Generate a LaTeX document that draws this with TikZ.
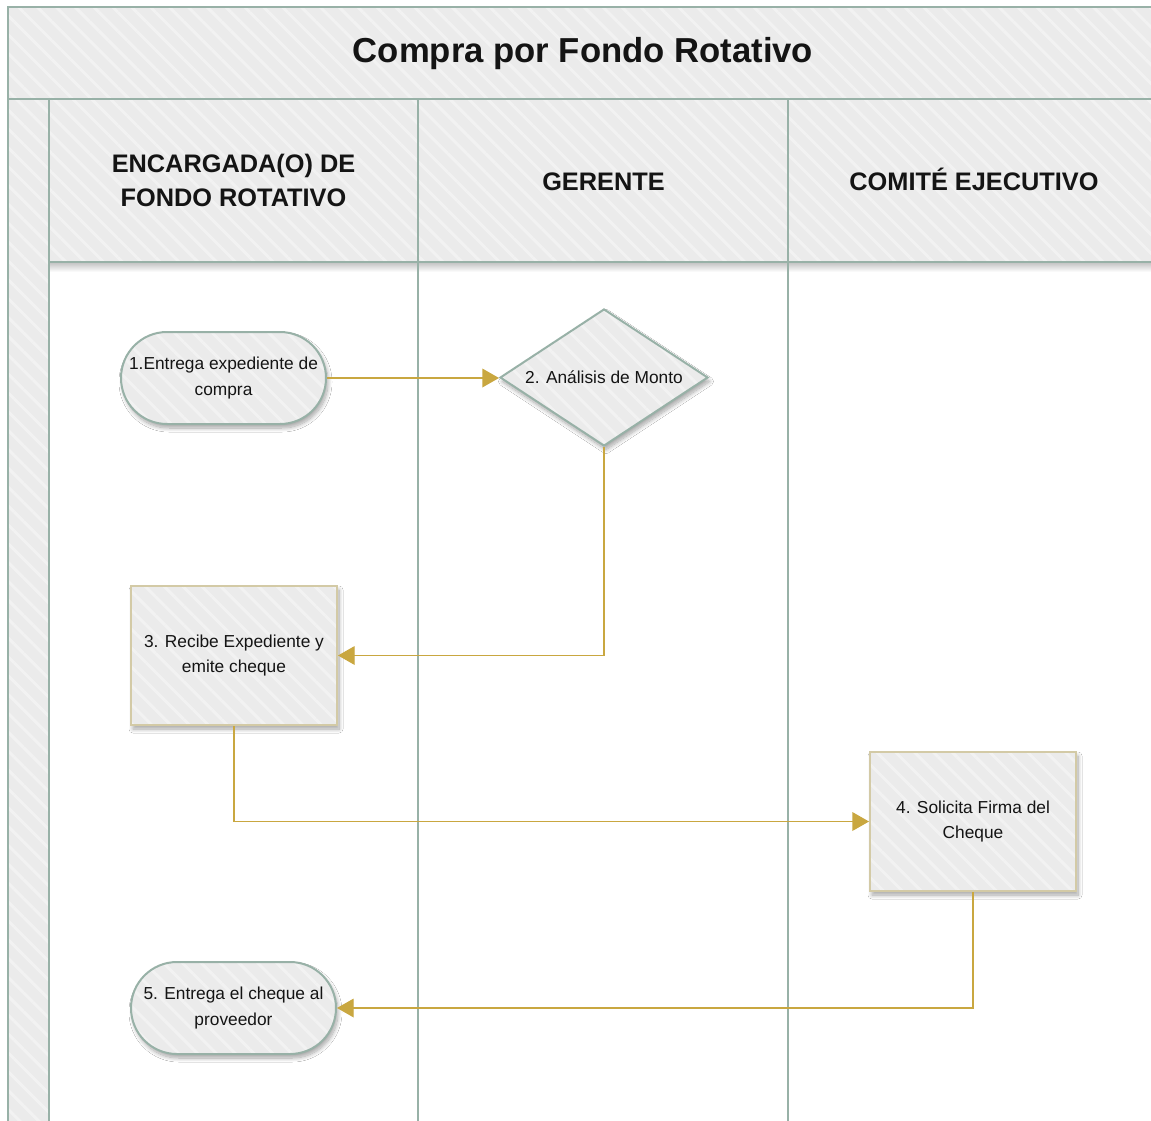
\documentclass[tikz,border=0pt]{standalone}
\usepackage{fontspec}
\setmainfont{Liberation Sans}
\usetikzlibrary{shapes.geometric,shadows.blur,arrows.meta,patterns.meta}
\definecolor{laneline}{HTML}{98B1A7}
\definecolor{boxline}{HTML}{D3CAA6}
\definecolor{flow}{HTML}{C9A740}
\definecolor{panelbg}{HTML}{EBEBEB}
\definecolor{panelln}{HTML}{F2F2F2}
\definecolor{ink}{HTML}{141414}
\begin{document}
\begin{tikzpicture}[x=0.75pt,y=-0.75pt,
  hatched/.style={preaction={fill=panelbg},
    preaction={pattern={Lines[angle=-45,distance=10pt,line width=2.2pt]},pattern color=panelln}},
  frame/.style={draw=laneline,line width=1.5pt},
  headtext/.style={font=\bfseries\fontsize{19}{25.5}\selectfont,text=ink,align=center},
  steptext/.style={font=\fontsize{13}{19}\selectfont,text=ink,align=center,inner sep=0pt},
  shade1/.style={blur shadow={shadow xshift=1.5pt,shadow yshift=-3pt,shadow blur radius=3pt,
    shadow blur steps=10,shadow opacity=35}},
  terminal/.style={shade1,hatched,steptext,draw=laneline,line width=1.5pt,
    minimum width=153.75pt,minimum height=69pt,rounded corners=34.5pt},
  process/.style={shade1,hatched,steptext,draw=boxline,line width=1.5pt,
    minimum width=154.5pt,minimum height=104.25pt},
  decision/.style={shade1,hatched,steptext,diamond,aspect=1.52,draw=laneline,line width=1.5pt,
    minimum width=156pt,minimum height=102.75pt},
  link/.style={draw=flow,line width=1pt,-{Triangle[length=12.5pt,width=14pt]}},
]
\useasboundingbox (0,0) rectangle (1151,1120);
\fill[white] (0,0) rectangle (1151,1120);

% title band and left strip
\path[hatched,frame] (8,7) rectangle (1165,99);
\path[hatched,frame] (8,99) rectangle (49,1135);

% lane headers
\path[hatched,frame] (49,99) rectangle (418,262);
\path[hatched,frame] (418,99) rectangle (788,262);
\path[hatched,frame] (788,99) rectangle (1165,262);

% soft shadow under the lane headers
\shade[top color=black!22,bottom color=white] (50,263) rectangle (1151,272);

% lane separators
\draw[laneline,line width=1.5pt] (418,262) -- (418,1135);
\draw[laneline,line width=1.5pt] (788,262) -- (788,1135);
\draw[laneline,line width=1.5pt] (49,262) -- (49,1135);

% titles
\node[font=\bfseries\fontsize{26}{30}\selectfont,text=ink,anchor=base] (title) at (583,63) {Compra por Fondo Rotativo};
\node[headtext] (laneA) at (233.5,180) {ENCARGADA(O) DE\\FONDO ROTATIVO};
\node[headtext,anchor=base] (laneB) at (603.5,190) {GERENTE};
\node[headtext,anchor=base] (laneC) at (974,190) {COMITÉ EJECUTIVO};

% steps
\node[terminal] (s1) at (223.5,378) {1.Entrega expediente de\\compra};
\node[decision] (s2) at (604,377.5) {2. Análisis de Monto};
\node[process] (s3) at (234,655.5) {3. Recibe Expediente y\\emite cheque};
\node[process] (s4) at (973,821.5) {4. Solicita Firma del\\Cheque};
\node[terminal] (s5) at (233.5,1008) {5. Entrega el cheque al\\proveedor};

% flow
\draw[link] (s1.east) -- (s1.east -| s2.west);
\draw[link] (s2.south) |- (s3.east);
\draw[link] (s3.south) |- (s4.west);
\draw[link] (s4.south) |- (s5.east);
\end{tikzpicture}
\end{document}
